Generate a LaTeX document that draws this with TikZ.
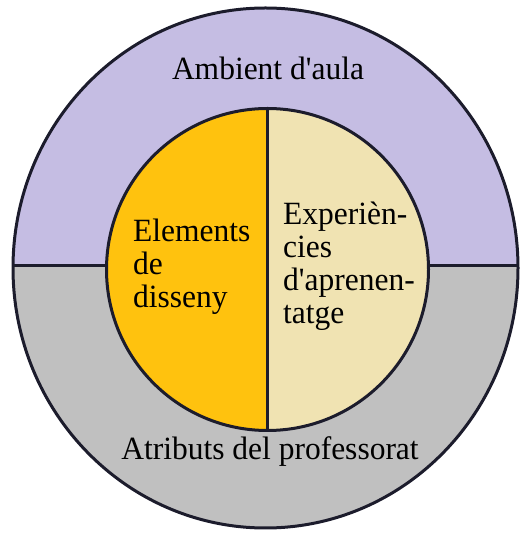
\documentclass[tikz,border=0pt]{standalone}
\usepackage{fontspec}
\setmainfont{Liberation Serif}
\usetikzlibrary{shapes.geometric}
\definecolor{amb}{HTML}{C5BDE3}
\definecolor{atr}{HTML}{C0C0C0}
\definecolor{elem}{HTML}{FFC20E}
\definecolor{expc}{HTML}{F0E3B2}
\definecolor{edge}{HTML}{1C1C2C}
\newcommand{\apos}{\textquotesingle}
\tikzset{
  outline/.style={draw=edge, line width=3pt},
  lbl/.style={inner sep=0pt, font=\fontsize{31.5}{33}\selectfont, text=black},
}
\begin{document}
\begin{tikzpicture}[x=1pt,y=1pt]
\useasboundingbox (0,0) rectangle (522,533);
% outer ring fills
\begin{scope}
  \clip (0,267) rectangle (522,533);
  \fill[amb] (265.5,265) ellipse [x radius=252.5, y radius=260];
\end{scope}
\begin{scope}
  \clip (0,0) rectangle (522,267);
  \fill[atr] (265.5,265) ellipse [x radius=252.5, y radius=260];
\end{scope}
\node[ellipse, outline, minimum width=505pt, minimum height=520pt, inner sep=0pt] (outer) at (265.5,265) {};
\coordinate (dl) at (13,267);
\coordinate (dr) at (518,267);
\draw[outline] (dl) -- (dr);
% inner disc fills
\begin{scope}
  \clip (0,0) rectangle (267.5,533);
  \fill[elem] (267.5,263.5) circle [radius=161];
\end{scope}
\begin{scope}
  \clip (267.5,0) rectangle (522,533);
  \fill[expc] (267.5,263.5) circle [radius=161];
\end{scope}
\node[circle, outline, minimum size=322pt, inner sep=0pt] (inner) at (267.5,263.5) {};
\draw[outline] (inner.north) -- (inner.south);
% labels
\node[lbl, anchor=base, yscale=1.03] (ambient) at (268,453) {Ambient d\apos aula};
\node[lbl, anchor=base, yscale=1.03] (atributs) at (270,73) {Atributs del professorat};
\node[lbl, anchor=base west, yscale=1.03] (elements) at (133,291)
  {\vtop{\baselineskip=32pt\hbox{Elements}\hbox{de}\hbox{disseny}}};
\node[lbl, anchor=base west, yscale=1.03] (experiencies) at (283,308)
  {\vtop{\baselineskip=32pt\hbox{Experièn-}\hbox{cies}\hbox{d\apos aprenen-}\hbox{tatge}}};
\end{tikzpicture}
\end{document}
